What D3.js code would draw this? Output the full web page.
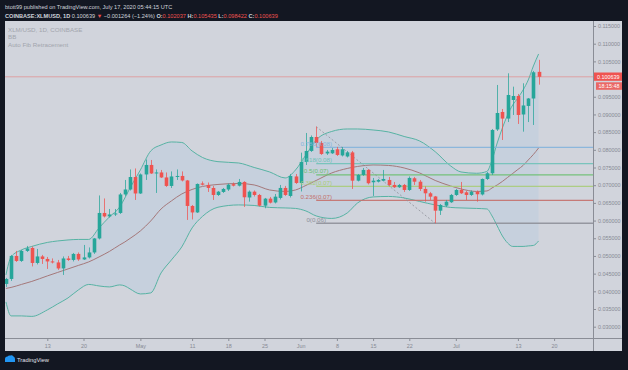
<!DOCTYPE html>
<html><head><meta charset="utf-8">
<script src="https://cdn.jsdelivr.net/npm/d3@7"></script>
<style>
body{margin:0;background:#131722;}
svg text{font-family:"Liberation Sans",Arial,sans-serif;}
</style></head>
<body><svg id="chart" width="628" height="370"></svg>
<script>
// ---------- DATA ----------
const dates = ["2020-04-05","2020-04-06","2020-04-07","2020-04-08","2020-04-09","2020-04-10","2020-04-11","2020-04-12","2020-04-13","2020-04-14","2020-04-15","2020-04-16","2020-04-17","2020-04-18","2020-04-19","2020-04-20","2020-04-21","2020-04-22","2020-04-23","2020-04-24","2020-04-25","2020-04-26","2020-04-27","2020-04-28","2020-04-29","2020-04-30",
"2020-05-01","2020-05-02","2020-05-03","2020-05-04","2020-05-05","2020-05-06","2020-05-07","2020-05-08","2020-05-09","2020-05-10","2020-05-11","2020-05-12","2020-05-13","2020-05-14","2020-05-15","2020-05-16","2020-05-17","2020-05-18","2020-05-19","2020-05-20","2020-05-21","2020-05-22","2020-05-23","2020-05-24","2020-05-25","2020-05-26","2020-05-27","2020-05-28","2020-05-29","2020-05-30","2020-05-31",
"2020-06-01","2020-06-02","2020-06-03","2020-06-04","2020-06-05","2020-06-06","2020-06-07","2020-06-08","2020-06-09","2020-06-10","2020-06-11","2020-06-12","2020-06-13","2020-06-14","2020-06-15","2020-06-16","2020-06-17","2020-06-18","2020-06-19","2020-06-20","2020-06-21","2020-06-22","2020-06-23","2020-06-24","2020-06-25","2020-06-26","2020-06-27","2020-06-28","2020-06-29","2020-06-30",
"2020-07-01","2020-07-02","2020-07-03","2020-07-04","2020-07-05","2020-07-06","2020-07-07","2020-07-08","2020-07-09","2020-07-10","2020-07-11","2020-07-12","2020-07-13","2020-07-14","2020-07-15","2020-07-16","2020-07-17"];
const open = [.04209,.04350,.05000,.04859,.05142,.05226,.04802,.04986,.04915,.04845,.04817,.04647,.04929,.04887,.05057,.04901,.04958,.05099,.05495,.06215,.06117,.06173,.06215,.06738,.06879,.07231,
.06766,.07304,.07572,.07332,.07360,.07219,.06979,.07247,.07261,.07134,.06413,.06230,.07049,.07007,.06922,.06724,.06809,.06879,.07030,.06987,.07092,.06653,.06817,.06724,.06422,.06620,.06512,.06640,.06922,.06696,.07247,
.07063,.07657,.07968,.08363,.08194,.07897,.07902,.08015,.07841,.07812,.07927,.07128,.07289,.07431,.07083,.07099,.07128,.07148,.07007,.06942,.07007,.06865,.07196,.07099,.06894,.06771,.06682,.06280,.06422,.06518,
.06724,.06865,.06799,.06724,.06817,.06738,.07176,.07337,.08575,.09070,.08883,.09409,.09522,.08999,.09240,.09451,.102037];
const high = [.04379,.05029,.05142,.05170,.05283,.05269,.05198,.05029,.04972,.04930,.04887,.04986,.05000,.05085,.05099,.05311,.05240,.05509,.06710,.06625,.06328,.06328,.06781,.07148,.07445,.07473,
.07332,.07728,.07713,.07445,.07431,.07360,.07389,.07445,.07389,.07148,.06441,.07049,.07106,.07077,.06979,.06837,.06922,.07049,.07077,.07176,.07112,.06851,.06851,.06752,.06640,.06668,.06752,.07007,.06979,.07317,.07317,
.07920,.08476,.08406,.08654,.08250,.07996,.08052,.08081,.08081,.07968,.07968,.07317,.07487,.07459,.07205,.07176,.07431,.07233,.07092,.07035,.07035,.07247,.07233,.07148,.06964,.06809,.06696,.06469,.06583,.06752,
.06894,.07092,.06837,.06851,.06851,.07190,.07374,.08589,.09833,.09154,.10163,.09785,.09579,.09881,.09465,.10229,.105435];
const low = [.04124,.04294,.04831,.04831,.05113,.04704,.04760,.04774,.04633,.04788,.04605,.04463,.04859,.04845,.04859,.04887,.04929,.05057,.05467,.06088,.06088,.06130,.06187,.06696,.06850,.06583,
.06752,.07148,.07317,.06781,.07205,.06951,.06922,.07148,.07106,.06018,.06032,.06215,.06993,.06809,.06583,.06696,.06781,.06837,.06964,.06964,.06385,.06535,.06680,.06399,.06348,.06484,.06484,.06597,.06696,.06653,.07035,
.06823,.07572,.07940,.08081,.07855,.07855,.07883,.07826,.07812,.07784,.06894,.07106,.07261,.07021,.06696,.07077,.07106,.06964,.06922,.06922,.06809,.06837,.07007,.06837,.06535,.06583,.05924,.06159,.06385,.06498,
.06696,.06752,.06583,.06696,.06535,.06710,.07148,.07289,.08533,.08278,.08785,.08985,.08731,.08513,.08785,.08702,.098422];
const close = [.04350,.05000,.04859,.05142,.05212,.04802,.04986,.04915,.04845,.04817,.04647,.04929,.04887,.05057,.04901,.04958,.05099,.05495,.06215,.06117,.06173,.06201,.06738,.06879,.07231,.06766,
.07304,.07572,.07332,.07360,.07219,.06979,.07247,.07261,.07134,.06413,.06230,.07035,.07015,.06922,.06724,.06817,.06894,.07015,.06987,.07092,.06659,.06817,.06724,.06422,.06620,.06507,.06676,.06922,.06724,.07261,.07063,
.07657,.07968,.08363,.08194,.07883,.07948,.07996,.07855,.08015,.07927,.07128,.07289,.07431,.07055,.07128,.07148,.07176,.07007,.06942,.07007,.06865,.07205,.07099,.06894,.06771,.06676,.06280,.06441,.06535,.06724,
.06865,.06771,.06724,.06817,.06744,.07176,.07337,.08561,.09041,.08883,.09550,.09522,.08985,.09254,.09451,.10192,.100639];

// Bollinger Bands
const bandDates = ["2020-04-05","2020-04-06","2020-04-08","2020-04-10","2020-04-13","2020-04-15","2020-04-17","2020-04-19","2020-04-21","2020-04-23","2020-04-25","2020-04-27","2020-04-28","2020-04-29",
"2020-05-01","2020-05-03","2020-05-05","2020-05-07","2020-05-09","2020-05-11","2020-05-13","2020-05-16","2020-05-20","2020-05-23","2020-05-26","2020-05-29","2020-05-31",
"2020-06-02","2020-06-04","2020-06-07","2020-06-10","2020-06-12","2020-06-15","2020-06-18","2020-06-21","2020-06-24","2020-06-27","2020-06-30",
"2020-07-02","2020-07-05","2020-07-07","2020-07-08","2020-07-09","2020-07-10","2020-07-11","2020-07-12","2020-07-13","2020-07-14","2020-07-15","2020-07-16","2020-07-17"];
const bbUpper = [.04463,.04972,.05170,.05269,.05382,.05424,.05452,.05467,.05467,.05792,.06102,.06385,.06639,.06922,
.07431,.07968,.08137,.08222,.08208,.07968,.07784,.07665,.07628,.07501,.07374,.07205,.07431,
.07855,.08278,.08519,.08589,.08589,.08561,.08505,.08377,.08250,.07948,.07544,
.07374,.07337,.07388,.07713,.08194,.08618,.08985,.09268,.09465,.09691,.09974,.10370,.10709];
const bbBasis = [.04082,.04110,.04195,.04280,.04435,.04534,.04633,.04732,.04831,.04972,.05127,.05311,.05396,.05495,
.05707,.05989,.06328,.06555,.06752,.06880,.06964,.07021,.07049,.07007,.06865,.06823,.06865,
.06993,.07134,.07346,.07473,.07530,.07572,.07558,.07487,.07346,.07134,.06978,
.06894,.06823,.06837,.06922,.07007,.07106,.07219,.07332,.07445,.07558,.07713,.07869,.08052];
const bbLower = [.03700,.03305,.03305,.03291,.03474,.03644,.03813,.04039,.04195,.04152,.04124,.04181,.04152,.04068,
.03926,.03955,.04520,.04887,.05255,.05792,.06117,.06377,.06442,.06427,.06371,.06357,.06343,
.06272,.06131,.06060,.06215,.06498,.06668,.06682,.06639,.06540,.06442,.06371,
.06357,.06343,.06328,.06131,.05848,.05565,.05368,.05269,.05269,.05269,.05283,.05297,.05424];

// Auto Fib Retracement
const fibLevels = [0, 0.236, 0.382, 0.5, 0.618, 0.786];
const fibLabels = ["0(0.06)","0.236(0.07)","0.382(0.07)","0.5(0.07)","0.618(0.08)","0.786(0.08)"];
const fibColors = ["#8e9099","#c4706c","#a9cc7a","#6cbf6f","#6fc2b8","#84b4dc"];
const fibLow = 0.05924, fibHigh = 0.08654;
const fibHighDate = "2020-06-04", fibLowDate = "2020-06-27";

// axes (0.100000 is hidden behind the last-price label in the reference)
const priceTicks = [0.030,0.035,0.040,0.045,0.050,0.055,0.060,0.065,0.070,0.075,0.080,0.085,0.090,0.095,0.105,0.110,0.115];
const timeTickDates = ["2020-04-13","2020-04-20","2020-05-01","2020-05-11","2020-05-18","2020-05-25","2020-06-01","2020-06-08","2020-06-15","2020-06-22","2020-07-01","2020-07-13","2020-07-20"];
const timeTickLabels = ["13","20","May","11","18","25","Jun","8","15","22","Jul","13","20"];
const lastPrice = 0.100639;
const countdown = "18:15:48";

// ---------- DRAW ----------
const svg = d3.select("#chart");
const P = {l:5, r:593, t:21, b:338, outerR:622, outerB:351};
const parse = d3.utcParse("%Y-%m-%d");
const x = d3.scaleUtc().domain([parse("2020-04-13"), parse("2020-07-20")]).range([47.3, 554.1]);
const y = d3.scaleLinear().domain([0.030, 0.115]).range([326.7, 26]);

svg.append("rect").attr("width",628).attr("height",370).attr("fill","#131722");
svg.append("rect").attr("x",P.l).attr("y",P.t).attr("width",P.outerR-P.l).attr("height",P.outerB-P.t).attr("fill","#d1d4dc");

svg.append("defs").append("clipPath").attr("id","clip").append("rect")
  .attr("x",P.l).attr("y",P.t).attr("width",P.r-P.l).attr("height",P.b-P.t);
const g = svg.append("g").attr("clip-path","url(#clip)");

// BB fill + lines
const bb = bandDates.map((d,i)=>({d:parse(d),u:bbUpper[i],m:bbBasis[i],l:bbLower[i]}));
g.append("path").datum(bb)
  .attr("d", d3.area().curve(d3.curveMonotoneX).x(d=>x(d.d)).y0(d=>y(d.l)).y1(d=>y(d.u)))
  .attr("fill","#2196f3").attr("fill-opacity",0.06);
const lineOf = k => d3.line().curve(d3.curveMonotoneX).x(d=>x(d.d)).y(d=>y(d[k]));
g.append("path").datum(bb).attr("d",lineOf("u")).attr("fill","none").attr("stroke","#57b3a4").attr("stroke-width",1);
g.append("path").datum(bb).attr("d",lineOf("l")).attr("fill","none").attr("stroke","#57b3a4").attr("stroke-width",1);
g.append("path").datum(bb).attr("d",lineOf("m")).attr("fill","none").attr("stroke","#a5787a").attr("stroke-width",1);

// Fib levels
const fx0 = x(parse(fibHighDate));
fibLevels.forEach((lv,i)=>{
  const py = y(fibLow + lv*(fibHigh-fibLow));
  g.append("line").attr("x1",fx0).attr("x2",P.r).attr("y1",py).attr("y2",py)
   .attr("stroke",fibColors[i]).attr("stroke-width",1.3).attr("stroke-opacity",0.9);
});
g.append("line").attr("x1",fx0).attr("y1",y(fibHigh)).attr("x2",x(parse(fibLowDate))).attr("y2",y(fibLow))
  .attr("stroke","#8e9099").attr("stroke-width",0.8).attr("stroke-dasharray","2,2");

// last price line
g.append("line").attr("x1",P.l).attr("x2",P.r).attr("y1",y(lastPrice)).attr("y2",y(lastPrice))
  .attr("stroke","#ef5350").attr("stroke-opacity",0.4).attr("stroke-width",1);

// candles
const up="#26a69a", dn="#ef5350";
const cw = 3.6;
const candles = dates.map((d,i)=>({d:parse(d),o:open[i],h:high[i],l:low[i],c:close[i]}));
const cg = g.append("g");
cg.selectAll("line.w").data(candles).join("line")
  .attr("x1",d=>Math.round(x(d.d))+0.5).attr("x2",d=>Math.round(x(d.d))+0.5)
  .attr("y1",d=>y(d.h)).attr("y2",d=>y(d.l))
  .attr("stroke",d=>d.c>=d.o?up:dn).attr("stroke-opacity",0.75).attr("stroke-width",1);
cg.selectAll("rect").data(candles).join("rect")
  .attr("x",d=>Math.round(x(d.d))+0.5-cw/2).attr("width",cw)
  .attr("y",d=>y(Math.max(d.o,d.c))).attr("height",d=>Math.max(1,Math.abs(y(d.o)-y(d.c))))
  .attr("fill",d=>d.c>=d.o?up:dn);

// fib labels (drawn over candles)
fibLevels.forEach((lv,i)=>{
  const py = y(fibLow + lv*(fibHigh-fibLow));
  svg.append("text").attr("x",fx0).attr("y",py-1.5).attr("text-anchor","middle")
    .attr("font-size",6.2).attr("fill",fibColors[i]).text(fibLabels[i]);
});

// axes lines
svg.append("line").attr("x1",P.l).attr("x2",P.outerR).attr("y1",P.b+0.5).attr("y2",P.b+0.5).attr("stroke","#8a8d96");
svg.append("line").attr("x1",P.r+0.5).attr("x2",P.r+0.5).attr("y1",P.t).attr("y2",P.outerB).attr("stroke","#8a8d96");

// price axis
const ya = svg.append("g").attr("transform",`translate(${P.r+0.5},0)`)
  .call(d3.axisRight(y).tickValues(priceTicks).tickFormat(d3.format(".6f")).tickSize(2.5).tickPadding(2));
ya.select(".domain").remove();
ya.selectAll("line").attr("stroke","#8a8d96");
ya.selectAll("text").attr("font-size",5.4).attr("fill","#868993").attr("font-family","Liberation Sans,Arial,sans-serif");

// time axis
const xa = svg.append("g").attr("transform",`translate(0,${P.b+0.5})`)
  .call(d3.axisBottom(x).tickValues(timeTickDates.map(parse)).tickFormat((d,i)=>timeTickLabels[i]).tickSize(2.5).tickPadding(3));
xa.select(".domain").remove();
xa.selectAll("line").attr("stroke","#8a8d96");
xa.selectAll("text").attr("font-size",5.4).attr("fill","#868993").attr("font-family","Liberation Sans,Arial,sans-serif");

// price label boxes
const ly = y(lastPrice);
svg.append("rect").attr("x",594).attr("y",ly-4.3).attr("width",28).attr("height",8.3).attr("fill","#ef5350");
svg.append("text").attr("x",597).attr("y",ly+2).attr("font-size",5.4).attr("fill","#fff").text(d3.format(".6f")(lastPrice));
svg.append("rect").attr("x",596).attr("y",ly+5.5).attr("width",26).attr("height",7.5).attr("fill","#ef5350").attr("fill-opacity",0.85);
svg.append("text").attr("x",598.5).attr("y",ly+11.3).attr("font-size",5.4).attr("fill","#fff").text(countdown);

// legend in pane
[["XLM/USD, 1D, COINBASE",31.5],["BB",39],["Auto Fib Retracement",46.5]].forEach(([t,yy])=>{
  svg.append("text").attr("x",8).attr("y",yy).attr("font-size",6.2).attr("fill","#a2a5ad").text(t);
});

// header
svg.append("text").attr("x",5).attr("y",8.8).attr("font-size",5.6).attr("fill","#d1d4dc")
  .text("btott99 published on TradingView.com, July 17, 2020 05:44:15 UTC");
const h2 = svg.append("text").attr("x",5).attr("y",17.6).attr("font-size",5.6).attr("fill","#d1d4dc");
h2.append("tspan").attr("font-weight","bold").text("COINBASE:XLMUSD, 1D ");
h2.append("tspan").text("0.100639 ");
h2.append("tspan").attr("fill","#ef5350").text("▼ ");
h2.append("tspan").text("−0.001264 (−1.24%) ");
[["O:","0.102037"],["H:","0.105435"],["L:","0.098422"],["C:","0.100639"]].forEach(([k,v],i)=>{
  h2.append("tspan").attr("font-weight","bold").text((i?" ":"")+k);
  h2.append("tspan").attr("fill","#ef5350").text(v);
});

// footer logo
const logo = svg.append("g").attr("transform","translate(5,355)");
logo.append("path").attr("d","M0,7 L0,4 Q0,1.5 2.5,1.5 Q3.5,0 5.5,0.5 Q7,-0.3 8.5,1.5 Q10,2 10,4 L10,7 Z").attr("fill","#2196f3");
svg.append("text").attr("x",17).attr("y",361.5).attr("font-size",5.8).attr("fill","#e0e3eb").text("TradingView");
</script>
</body></html>
